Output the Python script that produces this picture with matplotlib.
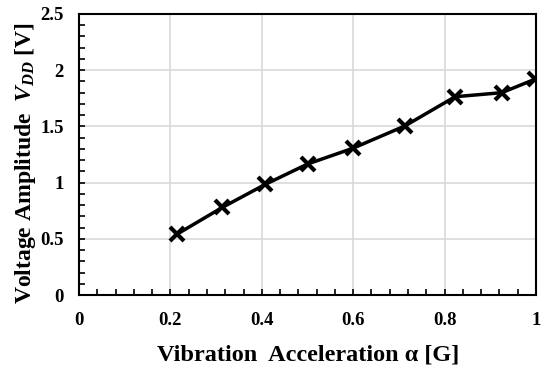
import matplotlib.pyplot as plt
from matplotlib.ticker import MultipleLocator

# Data
accel = [0.214, 0.314, 0.408, 0.50, 0.599, 0.713, 0.823, 0.925, 0.998]
voltage = [0.54, 0.78, 0.985, 1.165, 1.305, 1.504, 1.764, 1.80, 1.92]

x_ticks = [0, 0.2, 0.4, 0.6, 0.8, 1]
x_labels = ['0', '0.2', '0.4', '0.6', '0.8', '1']
y_ticks = [0, 0.5, 1, 1.5, 2, 2.5]
y_labels = ['0', '0.5', '1', '1.5', '2', '2.5']

plt.rcParams['font.family'] = ['Liberation Serif', 'DejaVu Serif']
plt.rcParams['font.weight'] = 'bold'
plt.rcParams['mathtext.fontset'] = 'custom'
plt.rcParams['mathtext.it'] = 'Liberation Serif:italic:bold'
plt.rcParams['mathtext.rm'] = 'Liberation Serif:bold'

fig = plt.figure(figsize=(5.5, 3.72), dpi=100)
ax = fig.add_axes([79 / 550, 1 - 295 / 372, 457 / 550, 281 / 372])

ax.plot(accel, voltage, color='black', linewidth=2.5, marker='x',
        markersize=10.5, markeredgewidth=3, zorder=3)

ax.set_xlim(0, 1)
ax.set_ylim(0, 2.5)
ax.set_xticks(x_ticks)
ax.set_xticklabels(x_labels)
ax.set_yticks(y_ticks)
ax.set_yticklabels(y_labels)
ax.xaxis.set_minor_locator(MultipleLocator(0.04))
ax.yaxis.set_minor_locator(MultipleLocator(0.1))

ax.tick_params(which='both', direction='in', labelsize=13.5, width=1.2, length=4)
ax.tick_params(axis='x', which='major', pad=12)
ax.tick_params(axis='y', which='major', pad=11)
ax.grid(True, which='major', color='#d9d9d9', linewidth=1.2, zorder=0)
ax.set_axisbelow(True)
for s in ax.spines.values():
    s.set_linewidth(1.5)
    s.set_color('black')

xl = ax.set_xlabel('Vibration  Acceleration α [G]', fontsize=17.5, fontweight='bold')
yl = ax.set_ylabel('Voltage Amplitude  $V_{DD}$ [V]', fontsize=17, fontweight='bold')
for lab in (xl, yl):
    lab.set_ha('center')
    lab.set_va('center')
    lab.set_rotation_mode('default')
ax.xaxis.set_label_coords(0.502, -0.213)
ax.yaxis.set_label_coords(-0.118, 0.47)

fig.savefig('out.png', dpi=100)
